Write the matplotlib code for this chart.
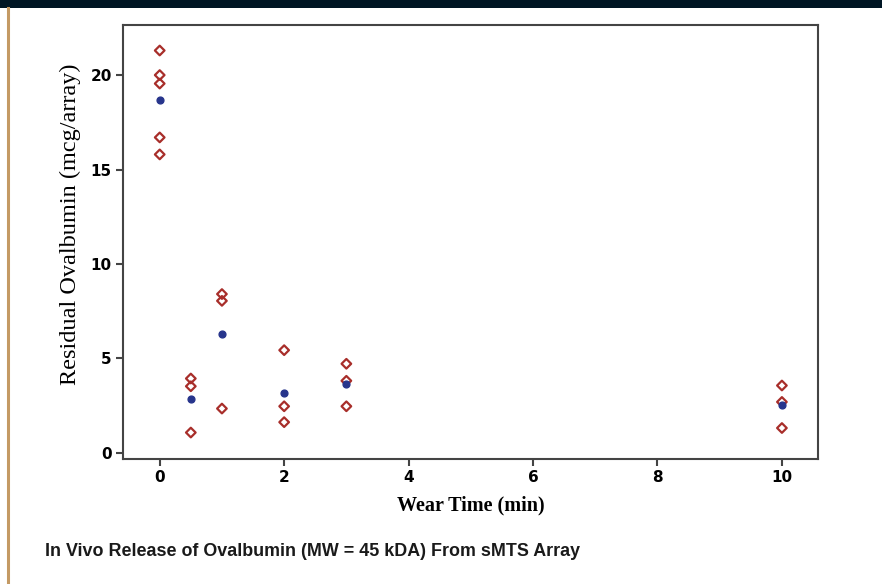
import matplotlib
matplotlib.use("Agg")
import matplotlib.pyplot as plt
from matplotlib.patches import Rectangle
from matplotlib.lines import Line2D

# individual measurements (open red diamonds)
wear_time = [0, 0, 0, 0, 0,
             0.5, 0.5, 0.5,
             1, 1, 1,
             2, 2, 2,
             3, 3, 3,
             10, 10, 10]
residual = [21.3, 20.0, 19.55, 16.7, 15.8,
            3.94, 3.53, 1.08,
            8.41, 8.05, 2.35,
            5.44, 2.47, 1.63,
            4.72, 3.82, 2.47,
            3.57, 2.70, 1.32]

# group means (filled blue dots)
mean_time = [0, 0.5, 1, 2, 3, 10]
mean_residual = [18.7, 2.86, 6.27, 3.18, 3.67, 2.55]

xticks = [0, 2, 4, 6, 8, 10]
yticks = [0, 5, 10, 15, 20]

W, H = 882, 584
fig = plt.figure(figsize=(W / 100, H / 100), dpi=100)
fig.patch.set_facecolor("white")

# decoration: dark band on top, tan rule on the left
fig.add_artist(Rectangle((0, 1 - 8 / H), 1, 8 / H, transform=fig.transFigure,
                         facecolor="#001624", edgecolor="none"))
fig.add_artist(Line2D([8 / W, 8 / W], [0, 1 - 8 / H], transform=fig.transFigure,
                      color="#C49A64", lw=2.2))

ax = fig.add_axes([123 / W, 1 - 459 / H, (818 - 123) / W, (459 - 25) / H])

ax.scatter(wear_time, residual, marker="D", s=24, facecolors="none",
           edgecolors="#A82E2A", linewidths=1.6, zorder=2)
ax.scatter(mean_time, mean_residual, marker="o", s=24, color="#27358C",
           zorder=3)

ax.set_xlim(-0.59, 10.58)
ax.set_ylim(-0.32, 22.65)
ax.set_xticks(xticks)
ax.set_yticks(yticks)

for s in ax.spines.values():
    s.set_color("#444444")
    s.set_linewidth(1.5)
ax.tick_params(direction="out", length=5, width=1.5, color="#444444",
               labelsize=11, pad=3)
for lab in ax.get_xticklabels() + ax.get_yticklabels():
    lab.set_fontweight("bold")
    lab.set_family("DejaVu Sans")

fig.text(471 / W, 1 - 505 / H, "Wear Time (min)", family="Liberation Serif",
         fontweight="bold", fontsize=14.5, ha="center", va="center")
fig.text(70 / W, 1 - 224 / H, "Residual Ovalbumin (mcg/array)",
         family="Liberation Serif", fontsize=17.5, rotation=90,
         ha="center", va="center")

fig.text(45 / W, 1 - 551 / H,
         "In Vivo Release of Ovalbumin (MW = 45 kDA) From sMTS Array",
         family="Liberation Sans", fontweight="bold",
         fontsize=12.9, va="center", ha="left", color="#1a1a1a")

fig.savefig("out.png", dpi=100)
